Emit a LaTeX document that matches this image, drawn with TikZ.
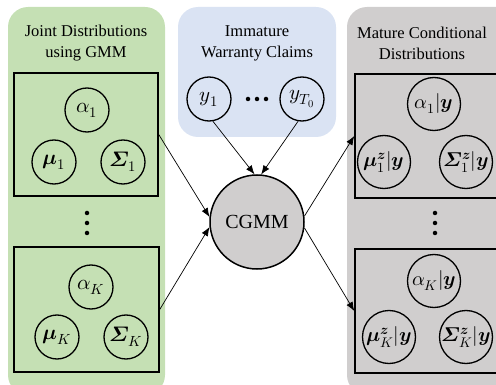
\documentclass[tikz,border=0pt]{standalone}
\usepackage{fontspec}
\usepackage{unicode-math}
\setmainfont{Liberation Serif}
\setmathfont{Latin Modern Math}
\usetikzlibrary{arrows.meta}
\definecolor{panelgreen}{HTML}{C5E0B4}
\definecolor{panelblue}{HTML}{DAE3F3}
\definecolor{panelgray}{HTML}{D0CECE}
\tikzset{
  panel/.style={rounded corners=20pt, draw=none},
  group/.style={draw=black, line width=1.5pt},
  var/.style={circle, draw=black, line width=1.3pt, minimum size=44pt, inner sep=0pt, font=\fontsize{21}{23}\selectfont},
  cvar/.style={var, minimum size=53pt, inner sep=-2pt, font=\fontsize{20}{22}\selectfont},
  title/.style={align=center, font=\fontsize{16.5}{21}\selectfont},
  link/.style={-{Latex[length=9pt,width=7pt]}, line width=0.7pt},
  dot/.style={circle, fill=black, inner sep=0pt, minimum size=4.5pt}
}
\begin{document}
\begin{tikzpicture}[x=1pt, y=-1pt]
\useasboundingbox (0,0) rectangle (496,385);
\clip (0,0) rectangle (496,385);

% background panels
\fill[panelgreen, panel] (8,7) rectangle (165,395);
\fill[panelblue, panel] (178,7) rectangle (336,137);
\fill[panelgray, panel] (347,7) rectangle (520,395);

% panel titles
\node[title] (tjoint) at (86,43) {Joint Distributions\\using GMM};
\node[title] (timm) at (257,43) {Immature\\Warranty Claims};
\node[title] (tmat) at (422,43) {Mature Conditional\\Distributions};

% joint mixture components
\node[group, minimum width=144pt, minimum height=123pt] (b1) at (86,134.5) {};
\node[group, minimum width=145pt, minimum height=125pt] (bK) at (86.5,309.5) {};
\node[var] (a1) at (87,110) {$\alpha_1$};
\node[var] (m1) at (54,162) {$\symbfit{\mu}_1$};
\node[var] (s1) at (123,162) {$\symbfit{\Sigma}_1$};
\node[var] (aK) at (91,287) {$\alpha_K$};
\node[var] (mK) at (57,337) {$\symbfit{\mu}_K$};
\node[var] (sK) at (126,337) {$\symbfit{\Sigma}_K$};
\node[dot] (ld1) at (87,213) {};
\node[dot] (ld2) at (87,223) {};
\node[dot] (ld3) at (87,233) {};

% immature claims
\node[var] (y1) at (209,99) {$y_1$};
\node[var] (yT) at (302,99) {$y_{T_0}$};
\node[dot] (hd1) at (248,99) {};
\node[dot] (hd2) at (257,99) {};
\node[dot] (hd3) at (266,99) {};

% conditional mixture components
\node[group, minimum width=170pt, minimum height=124pt] (r1) at (440,136) {};
\node[group, minimum width=170pt, minimum height=124pt] (rK) at (440,311) {};
\node[cvar] (ca1) at (434,104) {$\alpha_1|\symbfit{y}$};
\node[cvar] (cm1) at (384,162) {$\symbfit{\mu}_1^{\symbfit{z}}|\symbfit{y}$};
\node[cvar] (cs1) at (466,162) {$\symbfit{\Sigma}_1^{\symbfit{z}}|\symbfit{y}$};
\node[cvar] (caK) at (434,281) {$\alpha_K|\symbfit{y}$};
\node[cvar] (cmK) at (389,337) {$\symbfit{\mu}_K^{\symbfit{z}}|\symbfit{y}$};
\node[cvar] (csK) at (466,337) {$\symbfit{\Sigma}_K^{\symbfit{z}}|\symbfit{y}$};
\node[dot] (rd1) at (435,213) {};
\node[dot] (rd2) at (435,223) {};
\node[dot] (rd3) at (435,233) {};

% conditional model
\node[circle, draw=black, line width=1.5pt, fill=panelgray, minimum size=94pt,
      font=\fontsize{20}{24}\selectfont] (cgmm) at (257,222) {CGMM};

% connectors
\draw[link] (b1.east) -- (cgmm.174);
\draw[link] (bK.east) -- (cgmm.186);
\draw[link] (y1.-80) -- (cgmm.93);
\draw[link] (yT.-100) -- (cgmm.85);
\draw[link] (cgmm.7) -- (r1.west);
\draw[link] (cgmm.-7) -- (rK.west);
\end{tikzpicture}
\end{document}
